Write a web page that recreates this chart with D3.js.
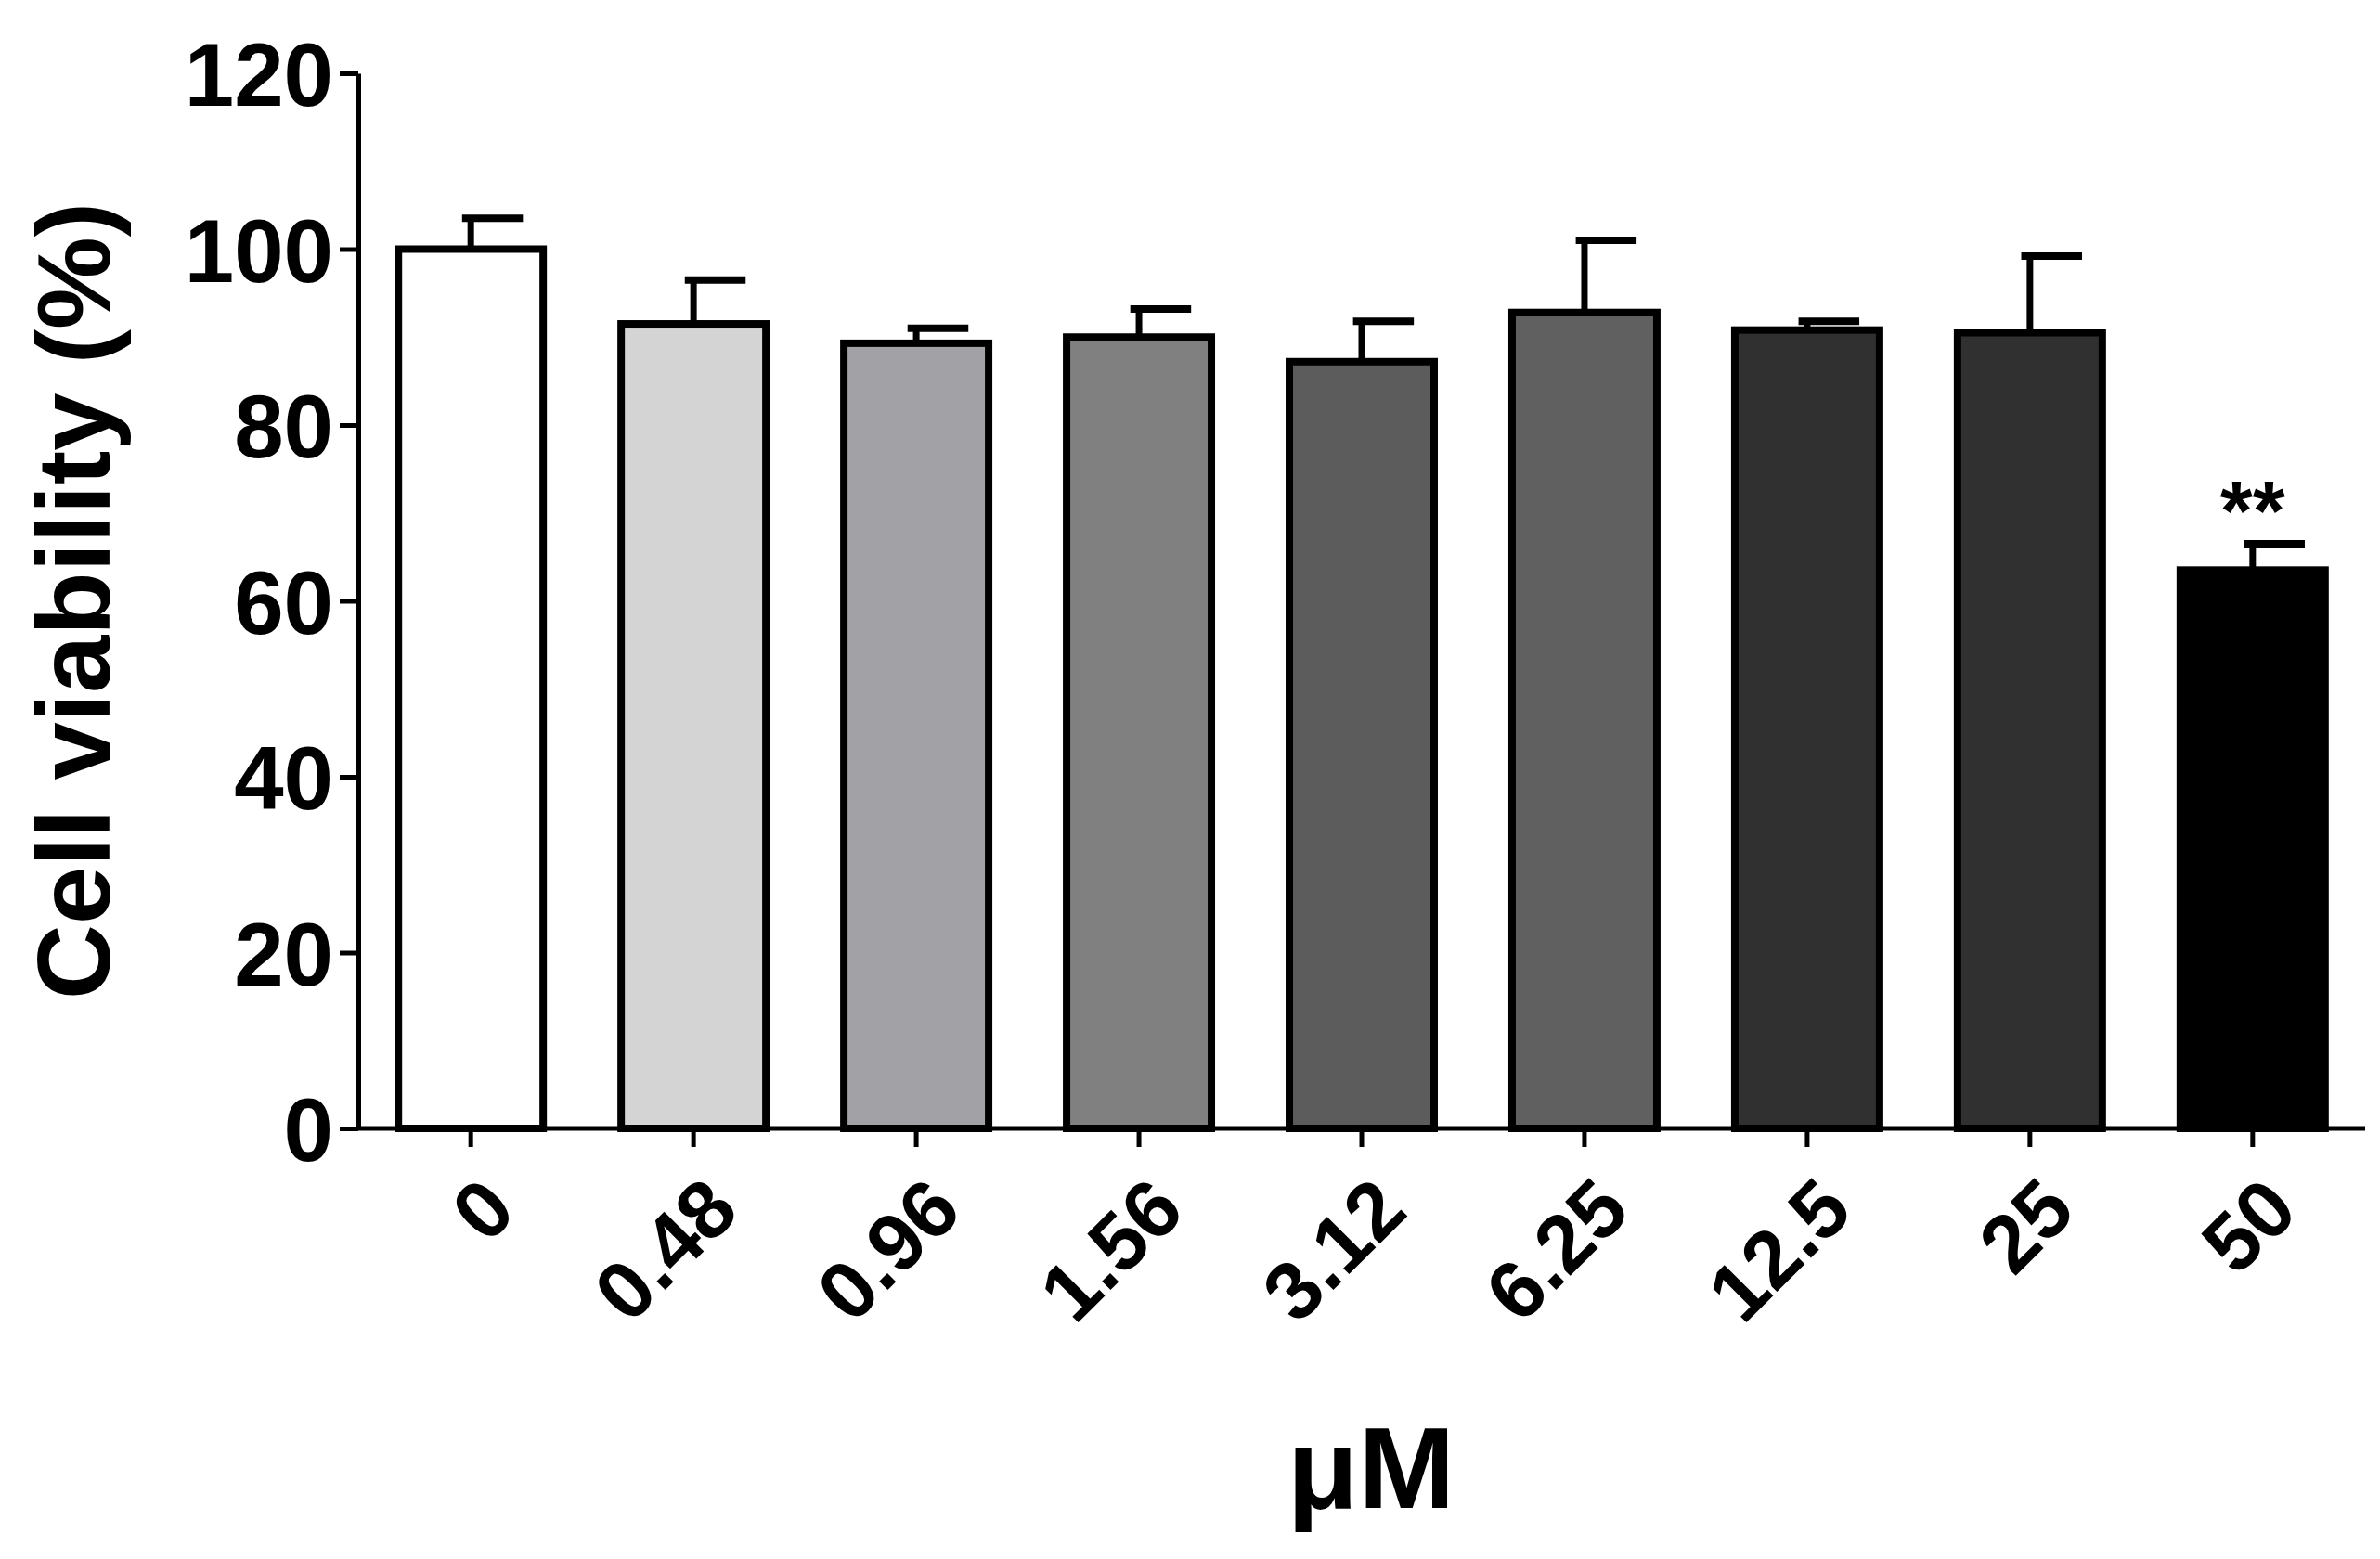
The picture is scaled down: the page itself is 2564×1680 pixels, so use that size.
<!DOCTYPE html>
<html><head><meta charset="utf-8">
<script src="https://cdn.jsdelivr.net/npm/d3@7"></script>
<style>body{margin:0;background:#fff}svg{display:block}text{font-family:"Liberation Sans",Arial,sans-serif;font-weight:bold}</style>
</head><body>
<script>
const categories = ["0","0.48","0.96","1.56","3.12","6.25","12.5","25","50"];
const means = [100, 91.5, 89.3, 90, 87.2, 92.8, 90.8, 90.5, 63.5];
const errTops = [103.5, 96.5, 91, 93.2, 91.8, 101, 91.8, 99.2, 66.5];
const fills = ["#ffffff","#d4d4d4","#a2a1a6","#808080","#5c5c5c","#606060","#303030","#303030","#000000"];
const yTicks = [0,20,40,60,80,100,120];

const W = 2564, H = 1680;
const m = {left: 386, right: 16, top: 79, bottom: 464};
const svg = d3.select("body").append("svg").attr("width", W).attr("height", H);
const x = d3.scaleBand().domain(categories).range([m.left, W - m.right]).paddingInner(0.35).paddingOuter(0.18);
const y = d3.scaleLinear().domain([0, 120]).range([H - m.bottom, m.top]);
const bw = x.bandwidth();

// error bars (behind bars)
svg.selectAll(".err").data(categories).enter().append("g").each(function(c, i) {
  const g = d3.select(this), cx = x(c) + bw / 2;
  g.append("line").attr("x1", cx).attr("x2", cx).attr("y1", y(means[i])).attr("y2", y(errTops[i]))
    .attr("stroke", "#000").attr("stroke-width", 7);
  g.append("line").attr("x1", cx - bw * 0.06).attr("x2", cx + bw * 0.36).attr("y1", y(errTops[i])).attr("y2", y(errTops[i]))
    .attr("stroke", "#000").attr("stroke-width", 8);
});

svg.selectAll(".bar").data(categories).enter().append("rect")
  .attr("x", c => x(c)).attr("width", bw)
  .attr("y", (c, i) => y(means[i])).attr("height", (c, i) => y(0) - y(means[i]))
  .attr("fill", (c, i) => fills[i]).attr("stroke", "#000").attr("stroke-width", 8);

// significance
svg.append("text").attr("x", x("50") + bw / 2).attr("y", y(errTops[8]) - 4)
  .attr("text-anchor", "middle").attr("font-size", 90).text("**");

// y axis
const ya = svg.append("g").attr("transform", `translate(${m.left},0)`)
  .call(d3.axisLeft(y).tickValues(yTicks).tickSize(20).tickSizeOuter(0));
ya.select(".domain").attr("stroke-width", 5);
ya.selectAll(".tick line").attr("stroke-width", 5);
ya.selectAll(".tick text").attr("font-size", 96).attr("font-family", "Liberation Sans Narrow, Liberation Sans, Arial").attr("dx", -4).attr("dy", "0.36em");

// x axis
const xa = svg.append("g").attr("transform", `translate(0,${y(0)})`)
  .call(d3.axisBottom(x).tickSize(20).tickSizeOuter(0));
xa.select(".domain").attr("stroke-width", 5).attr("d", `M${m.left},0H${W - m.right}`);
xa.selectAll(".tick line").attr("stroke-width", 5);
xa.selectAll(".tick text").attr("font-size", 88).attr("text-anchor", "end")
  .attr("transform", "translate(30,70) rotate(-45)").attr("dy", "0.35em").attr("y", 0);

svg.append("text").attr("transform", `translate(118,${(y(0) + y(120)) / 2}) rotate(-90)`)
  .attr("text-anchor", "middle").attr("font-size", 112).text("Cell viability (%)");
svg.append("text").attr("x", (m.left + W - m.right) / 2 + 10).attr("y", 1625)
  .attr("text-anchor", "middle").attr("font-size", 125).text("μM");
</script>
</body></html>
